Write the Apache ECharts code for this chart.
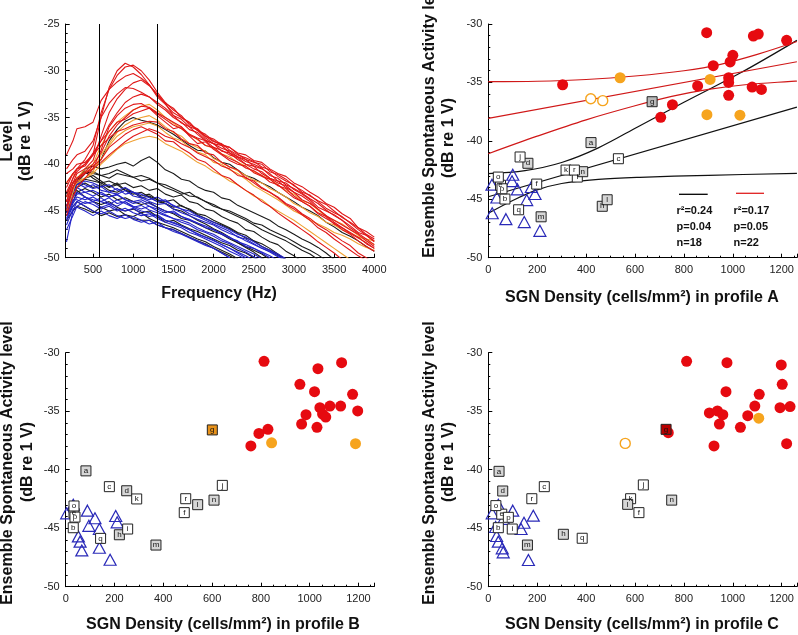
<!DOCTYPE html>
<html><head><meta charset="utf-8">
<script src="https://cdn.jsdelivr.net/npm/echarts@6/dist/echarts.min.js"></script>
<style>html,body{margin:0;padding:0;background:#fff}#c{width:798px;height:635px}</style>
</head><body><div id="c"></div>
<script>
// ---------- Panel 1: spectra ----------
const F = [170,250,300,400,500,600,700,800,900,1000,1100,1200,1300,1400,1500,1600,1700,1800,1900,2000,2100,2200,2300,2400,2500,2600,2700,2800,2900,3000,3100,3200,3300,3400,3500,3600,3700,3800,3900,4000];
const freqTicks = [500,1000,1500,2000,2500,3000,3500,4000];
const markerFreqs = [580,1300];
const redCurves = [
 [-43.5,-41.5,-40.5,-40.2,-39.0,-35.0,-31.8,-30.0,-29.2,-29.6,-30.4,-31.5,-32.6,-33.5,-34.0,-35.0,-35.6,-36.4,-37.0,-37.3,-37.9,-38.2,-38.8,-39.0,-39.6,-39.8,-40.5,-41.0,-41.3,-42.0,-42.4,-43.0,-43.5,-44.2,-44.6,-45.3,-45.8,-46.8,-47.5,-48.0],
 [-42.0,-41.0,-40.5,-39.5,-38.0,-34.5,-32.0,-30.5,-29.6,-29.4,-30.0,-31.0,-32.3,-33.4,-34.2,-34.8,-35.8,-36.2,-37.0,-37.6,-37.8,-38.5,-39.0,-39.3,-39.7,-40.3,-40.6,-41.3,-41.8,-42.2,-43.0,-43.3,-44.0,-44.7,-45.2,-45.6,-46.3,-47.0,-47.6,-48.3],
 [-39.0,-37.5,-36.2,-36.0,-35.5,-33.2,-32.0,-31.2,-30.6,-30.3,-30.8,-31.5,-32.8,-33.6,-34.5,-35.0,-35.5,-36.4,-36.8,-37.5,-38.0,-38.2,-38.9,-39.5,-39.8,-40.0,-40.8,-41.1,-41.6,-42.3,-42.8,-43.4,-43.9,-44.3,-45.0,-45.7,-46.2,-46.8,-47.2,-47.8],
 [-44.0,-42.0,-41.0,-40.5,-39.6,-37.0,-34.5,-33.0,-32.0,-31.3,-31.0,-31.6,-32.5,-33.5,-34.8,-35.2,-36.0,-36.3,-37.2,-37.8,-38.0,-38.8,-39.2,-39.5,-40.2,-40.5,-41.0,-41.8,-42.0,-42.7,-43.2,-43.8,-44.6,-45.0,-45.4,-46.0,-46.8,-47.4,-48.0,-48.6],
 [-43.0,-41.5,-40.8,-40.0,-39.0,-37.5,-35.8,-34.5,-33.4,-32.8,-32.5,-32.8,-33.4,-34.0,-34.8,-35.6,-36.0,-36.8,-37.5,-37.8,-38.6,-38.8,-39.5,-40.0,-40.2,-41.0,-41.5,-41.8,-42.5,-43.0,-43.4,-44.0,-44.8,-45.5,-46.0,-46.5,-47.0,-47.5,-48.2,-48.8],
 [-45.0,-42.5,-41.5,-40.8,-40.0,-38.8,-37.0,-35.8,-35.0,-34.2,-33.8,-33.9,-34.5,-35.0,-35.5,-36.0,-36.8,-37.2,-37.5,-38.2,-38.5,-39.0,-39.3,-40.0,-40.5,-40.8,-41.5,-42.0,-42.3,-43.0,-43.8,-44.2,-44.8,-45.5,-46.2,-46.8,-47.3,-47.8,-48.5,-49.0],
 [-42.5,-41.0,-40.5,-40.0,-38.8,-37.5,-36.5,-35.5,-35.2,-34.6,-34.3,-34.0,-34.8,-35.5,-36.2,-36.0,-37.0,-37.8,-37.6,-38.4,-39.0,-39.6,-40.0,-40.2,-40.9,-41.3,-41.6,-42.3,-42.6,-43.4,-44.0,-44.5,-45.3,-45.8,-46.3,-47.0,-47.5,-48.2,-48.8,-49.3],
 [-44.5,-42.5,-41.8,-41.0,-40.2,-39.5,-38.2,-37.5,-36.8,-36.3,-36.0,-36.4,-36.8,-37.5,-37.6,-38.3,-38.8,-39.5,-39.8,-40.5,-41.2,-41.5,-42.2,-42.8,-43.3,-44.0,-44.5,-45.2,-45.8,-46.4,-47.0,-47.6,-48.3,-48.9,-49.5,-50.2,-50.8,-51.2,-51.8,-52.5],
 [-41.0,-40.5,-40.0,-39.8,-39.0,-38.0,-37.2,-36.5,-36.2,-35.8,-35.6,-35.4,-35.5,-36.2,-36.5,-37.3,-37.8,-38.0,-38.8,-39.0,-39.8,-40.3,-40.6,-41.5,-41.8,-42.5,-43.0,-43.5,-44.2,-44.6,-45.3,-45.8,-46.5,-47.0,-47.6,-48.2,-48.7,-49.5,-50.0,-50.6],
 [-45.5,-43.5,-42.5,-41.5,-40.5,-38.5,-36.0,-34.8,-34.0,-33.6,-33.5,-34.0,-34.6,-35.2,-35.8,-36.2,-36.9,-37.3,-38.0,-38.2,-38.9,-39.4,-39.8,-40.4,-40.7,-41.2,-41.9,-42.2,-42.9,-43.6,-44.0,-44.5,-45.2,-45.6,-46.4,-46.8,-47.4,-47.9,-48.4,-49.0],
 [-40.5,-39.5,-39.0,-38.6,-37.5,-35.0,-33.5,-32.5,-31.8,-31.9,-32.3,-32.8,-33.6,-34.2,-35.0,-35.5,-36.3,-36.6,-37.4,-37.8,-38.3,-38.6,-39.2,-39.7,-40.0,-40.4,-41.2,-41.5,-42.2,-42.6,-43.1,-43.7,-44.2,-44.9,-45.5,-46.0,-46.6,-47.3,-47.6,-48.2],
 [-44.0,-42.0,-41.5,-41.0,-40.5,-39.8,-39.0,-38.3,-37.6,-37.0,-36.6,-36.2,-36.5,-37.0,-37.3,-37.8,-38.2,-38.8,-39.2,-39.6,-40.2,-40.5,-41.2,-41.4,-42.0,-42.6,-43.0,-43.6,-44.3,-44.8,-45.4,-46.0,-46.8,-47.3,-48.0,-48.6,-49.2,-49.8,-50.3,-50.8]
];
const orangeCurves = [
 [-42.0,-41.0,-41.5,-40.5,-40.0,-38.0,-36.5,-35.5,-34.8,-34.2,-33.8,-33.6,-34.2,-35.0,-35.6,-36.2,-36.8,-37.4,-38.0,-38.3,-38.9,-39.2,-39.8,-40.2,-40.8,-41.2,-41.6,-42.2,-42.8,-43.2,-43.9,-44.2,-44.9,-45.6,-46.0,-46.4,-47.0,-47.6,-48.2,-48.6],
 [-43.5,-42.0,-41.8,-41.5,-40.8,-39.0,-37.8,-36.6,-35.8,-35.3,-35.0,-34.8,-35.3,-36.0,-36.6,-37.0,-37.8,-38.2,-38.6,-39.4,-39.8,-40.3,-40.7,-41.2,-41.7,-42.0,-42.6,-43.0,-43.5,-44.2,-44.6,-45.2,-45.6,-46.2,-46.5,-47.0,-47.4,-47.8,-48.0,-48.2],
 [-44.0,-42.5,-42.0,-41.5,-41.0,-40.0,-39.2,-38.4,-37.8,-37.5,-37.2,-37.0,-37.2,-37.8,-38.2,-38.6,-39.2,-39.8,-40.2,-40.8,-41.2,-41.8,-42.2,-42.8,-43.4,-43.8,-44.5,-45.0,-45.5,-46.0,-46.6,-47.2,-47.8,-48.4,-49.0,-49.6,-50.2,-50.8,-51.2,-51.6],
 [-45.0,-43.0,-41.5,-40.8,-40.5,-39.5,-38.0,-37.0,-36.4,-36.0,-35.8,-35.6,-35.9,-36.6,-37.2,-37.5,-38.2,-38.7,-39.0,-39.8,-40.0,-40.6,-41.0,-41.6,-42.3,-42.8,-43.3,-43.8,-44.4,-45.0,-45.4,-46.0,-46.4,-46.8,-47.3,-47.6,-48.0,-48.5,-48.9,-49.2]
];
const blackCurves = [
 [-44.5,-43.0,-42.0,-41.0,-40.5,-39.5,-37.5,-36.3,-35.4,-35.0,-35.3,-35.5,-35.8,-36.3,-36.8,-37.4,-38.0,-38.5,-38.6,-39.3,-39.8,-40.0,-40.6,-41.2,-41.5,-42.0,-42.4,-43.0,-43.5,-44.0,-44.6,-45.0,-45.5,-46.2,-46.7,-47.3,-47.7,-48.2,-48.8,-49.3],
 [-44.0,-42.5,-41.8,-40.5,-40.2,-40.5,-40.3,-40.0,-39.8,-40.2,-39.6,-39.2,-39.8,-40.6,-41.0,-41.6,-41.8,-42.4,-42.8,-43.0,-43.6,-43.8,-44.4,-44.8,-45.2,-45.6,-46.0,-46.6,-47.0,-47.5,-48.0,-48.4,-48.9,-49.5,-50.2,-50.8],
 [-43.5,-42.0,-41.5,-40.8,-41.0,-41.2,-41.5,-41.0,-41.2,-41.4,-41.8,-41.6,-42.0,-42.5,-42.8,-43.2,-43.0,-43.6,-44.0,-44.5,-44.8,-45.2,-45.6,-46.0,-46.5,-47.0,-47.4,-47.8,-48.2,-48.7,-49.2,-49.6,-50.2,-50.8],
 [-44.5,-43.0,-42.2,-41.6,-41.8,-42.0,-41.8,-42.2,-42.0,-42.5,-42.3,-42.8,-42.6,-43.2,-43.5,-43.3,-44.0,-44.2,-44.8,-45.0,-45.6,-46.0,-46.3,-47.0,-47.2,-47.8,-48.3,-48.6,-49.3,-49.8,-50.4],
 [-45.0,-43.5,-42.5,-42.0,-42.5,-42.2,-42.8,-43.0,-42.6,-43.0,-43.4,-43.2,-43.8,-44.0,-43.8,-44.5,-44.8,-45.3,-45.5,-46.0,-46.4,-46.8,-47.3,-47.6,-48.2,-48.5,-49.0,-49.6,-50.2,-50.6],
 [-44.0,-42.8,-42.0,-41.5,-41.2,-41.8,-42.4,-42.0,-42.8,-43.2,-43.0,-43.5,-44.0,-44.2,-44.8,-45.0,-45.5,-46.0,-46.4,-46.9,-47.3,-47.8,-48.4,-48.9,-49.4,-50.0,-50.6],
 [-45.5,-44.5,-44.0,-44.5,-45.0,-45.5,-45.2,-45.6,-45.4,-45.8,-46.0,-46.0,-46.5,-46.8,-47.0,-47.4,-47.8,-48.2,-48.5,-49.0,-49.4,-49.8,-50.3,-50.8],
 [-44.0,-43.2,-42.8,-43.5,-44.0,-44.3,-44.0,-44.6,-45.0,-44.8,-45.2,-45.0,-45.6,-46.2,-46.0,-46.5,-46.9,-47.2,-47.6,-48.0,-48.4,-48.7,-49.2,-49.5,-50.0,-50.5],
 [-44.8,-43.0,-41.5,-40.8,-41.5,-42.0,-42.5,-42.2,-42.8,-43.0,-43.6,-43.4,-43.8,-44.2,-44.6,-44.4,-44.9,-45.4,-45.8,-46.2,-46.5,-46.9,-47.4,-47.9,-48.2,-48.8,-49.2,-49.7,-50.2],
 [-45.2,-44.0,-43.0,-42.6,-43.0,-43.5,-43.2,-43.8,-43.6,-44.0,-44.3,-44.1,-44.6,-45.0,-45.3,-45.8,-46.0,-46.4,-46.8,-47.2,-47.5,-48.0,-48.4,-48.8,-49.2,-49.6,-50.2],
 [-43.2,-42.0,-41.8,-41.0,-40.8,-41.2,-41.0,-40.6,-41.0,-41.4,-41.2,-41.5,-42.0,-42.2,-42.6,-43.0,-43.4,-43.5,-44.0,-44.3,-44.8,-45.0,-45.4,-45.8,-46.3,-46.5,-47.0,-47.4,-47.8,-48.3,-48.8,-49.2,-49.7,-50.3],
 [-46.0,-45.0,-44.5,-44.8,-45.2,-44.6,-45.0,-44.8,-45.4,-45.6,-45.2,-45.8,-46.2,-46.5,-46.8,-47.2,-47.6,-48.0,-48.3,-48.8,-49.2,-49.6,-50.1]
];
const blueCurves = [
 [-48.3,-45.0,-44.0,-43.5,-43.8,-44.0,-43.6,-44.2,-44.0,-44.5,-44.8,-44.5,-45.0,-45.4,-45.8,-46.0,-46.3,-46.8,-47.2,-47.5,-48.0,-48.4,-48.8,-49.2,-49.6,-50.1],
 [-44.5,-42.5,-42.0,-42.5,-42.2,-42.8,-43.0,-42.6,-43.2,-43.0,-43.5,-43.8,-43.5,-44.0,-44.4,-44.8,-45.0,-45.5,-45.8,-46.2,-46.6,-47.0,-47.5,-47.8,-48.3,-48.8,-49.2,-49.6,-50.1],
 [-45.0,-43.5,-43.0,-43.5,-44.0,-43.6,-44.2,-44.5,-44.0,-44.6,-45.0,-45.2,-45.6,-46.0,-46.2,-46.6,-47.0,-47.4,-47.8,-48.2,-48.6,-49.0,-49.5,-50.0],
 [-45.5,-44.0,-43.2,-43.0,-43.4,-43.0,-43.5,-43.2,-43.8,-44.2,-44.0,-44.5,-44.8,-45.2,-45.0,-45.6,-46.0,-46.3,-46.8,-47.0,-47.5,-47.9,-48.2,-48.8,-49.0,-49.5,-50.0],
 [-46.0,-44.5,-44.0,-44.5,-45.0,-45.3,-45.0,-45.5,-45.8,-45.6,-46.0,-46.4,-46.2,-46.8,-47.0,-47.4,-47.8,-48.2,-48.6,-49.0,-49.5,-50.0],
 [-44.0,-42.8,-42.2,-41.8,-42.0,-42.4,-42.2,-42.8,-42.5,-43.0,-43.2,-43.6,-44.0,-43.8,-44.5,-44.8,-45.3,-45.6,-46.0,-46.4,-46.8,-47.2,-47.8,-48.0,-48.5,-49.0,-49.3,-49.8,-50.2],
 [-47.0,-45.5,-44.5,-44.0,-44.3,-44.8,-44.5,-45.0,-44.7,-45.2,-45.5,-45.3,-45.8,-46.2,-46.5,-46.8,-47.3,-47.6,-48.0,-48.4,-48.8,-49.3,-49.7,-50.2],
 [-45.8,-44.2,-43.5,-43.8,-43.5,-44.0,-44.3,-43.8,-44.2,-44.6,-44.4,-44.9,-45.2,-45.5,-45.8,-46.2,-46.5,-47.0,-47.3,-47.7,-48.2,-48.5,-49.0,-49.4,-49.9,-50.4],
 [-44.8,-43.0,-42.5,-43.0,-42.8,-43.2,-43.5,-43.3,-43.8,-44.0,-43.8,-44.2,-44.6,-45.0,-45.2,-45.6,-45.9,-46.3,-46.6,-47.0,-47.4,-47.8,-48.3,-48.6,-49.0,-49.4,-49.8,-50.3],
 [-46.5,-44.8,-44.6,-45.0,-45.5,-45.0,-45.5,-45.8,-45.4,-45.9,-46.2,-46.0,-46.5,-46.8,-47.2,-47.5,-47.9,-48.3,-48.7,-49.0,-49.5,-50.0],
 [-43.5,-42.0,-41.8,-42.2,-42.6,-42.4,-43.0,-43.2,-42.8,-43.4,-43.6,-44.0,-44.3,-44.2,-44.8,-45.2,-45.5,-45.9,-46.2,-46.5,-47.0,-47.4,-47.7,-48.2,-48.6,-49.0,-49.4,-49.9,-50.3],
 [-45.2,-43.8,-43.8,-44.2,-44.0,-44.6,-44.3,-44.8,-45.0,-44.7,-45.3,-45.6,-45.4,-46.0,-46.3,-46.6,-47.0,-47.5,-47.8,-48.1,-48.6,-49.0,-49.4,-49.8,-50.3]
];

// ---------- Panel 2: profile A ----------
const redA = [[304,-35.2],[893,-30.74],[1084,-31.03],[1104,-30.86],[1220,-31.4],[1000,-32.68],[989,-33.25],[920,-33.57],[983,-34.6],[983,-35.0],[856,-35.3],[1079,-35.4],[1117,-35.6],[983,-36.1],[753,-36.9],[705,-37.99]];
const orangeA = [[539,-34.6],[907,-34.74],[894,-37.76],[1029,-37.8]];
const orangeOpenA = [[419,-36.4],[468,-36.56]];
const triA = [[15,-43.75],[16,-46.2],[35,-44.85],[72,-46.7],[100,-42.9],[97,-43.45],[119,-44.15],[147,-46.95],[157,-45.07],[176,-43.95],[191,-44.55],[211,-47.7]];
const sqA = [['a',420,-40.15],['b',68,-44.98],['c',532,-41.53],['d',162,-41.92],['e',50,-43.8],['f',198,-43.7],['g',670,-36.65],['h',466,-45.6],['i',364,-43.1],['j',130,-41.38],['k',318,-42.5],['l',486,-45.04],['m',216,-46.5],['n',386,-42.64],['o',41,-43.1],['p',56,-44.1],['q',124,-45.9],['r',352,-42.5]];
const fitBlackUpper = [[0,-42.8],[150,-42.55],[300,-41.85],[450,-40.6],[620,-38.7],[800,-36.7],[1030,-34.2],[1262,-31.4]];
const fitBlack = [[0,-44.78],[1262,-37.12]];
const fitBlackLower = [[0,-46.2],[100,-45.1],[200,-44.2],[300,-43.65],[450,-43.3],[620,-43.12],[900,-42.95],[1262,-42.78]];
const fitRedUpper = [[0,-34.94],[200,-34.9],[400,-34.75],[600,-34.45],[800,-34.0],[950,-33.45],[1100,-32.6],[1262,-31.5]];
const fitRed = [[0,-38.07],[1262,-33.23]];
const fitRedLower = [[0,-41.1],[200,-39.6],[400,-38.2],[600,-37.0],[750,-36.2],[900,-35.6],[1050,-35.2],[1262,-34.88]];
const statsBlack = ['r\u00b2=0.24','p=0.04','n=18'];
const statsRed = ['r\u00b2=0.17','p=0.05','n=22'];

// ---------- Panel 3: profile B ----------
const redB = [[813,-30.74],[1131,-30.85],[1034,-31.37],[960,-32.7],[1020,-33.33],[1176,-33.56],[1083,-34.56],[1127,-34.56],[1042,-34.7],[1197,-34.98],[1053,-35.24],[1066,-35.5],[985,-35.3],[967,-36.1],[1030,-36.38],[829,-36.55],[792,-36.9],[759,-37.97]];
const orangeB = [[844,-37.7],[1188,-37.78]];
const triB = [[4,-43.73],[31,-43.0],[89,-43.5],[120,-44.15],[95,-44.8],[138,-45.07],[52,-45.7],[59,-46.15],[66,-46.9],[138,-46.67],[182,-47.7],[205,-43.96],[211,-44.5]];
const sqB = [['a',83,-40.1],['b',31,-44.96],['c',179,-41.45],['d',250,-41.8],['e',34,-43.7],['f',486,-43.67],['g',601,-36.6],['h',220,-45.56],['i',254,-45.07],['j',642,-41.34],['k',291,-42.5],['l',541,-42.99],['m',370,-46.44],['n',608,-42.6],['o',34,-43.1],['p',38,-44.05],['q',143,-45.87],['r',492,-42.48]];

// ---------- Panel 4: profile C ----------
const redC = [[811,-30.74],[976,-30.85],[1198,-31.05],[1202,-32.7],[972,-33.33],[1108,-33.56],[1090,-34.56],[1193,-34.7],[1234,-34.6],[904,-35.15],[937,-34.98],[959,-35.3],[1061,-35.38],[945,-36.1],[1031,-36.38],[923,-37.97],[1220,-37.78],[736,-36.84]];
const orangeC = [[1106,-35.6]];
const orangeOpenC = [[560,-37.75]];
const triC = [[16,-43.73],[41,-43.0],[100,-43.5],[184,-43.93],[146,-44.53],[134,-45.07],[34,-45.67],[41,-46.15],[57,-46.72],[61,-47.06],[164,-47.72],[30,-44.9],[62,-44.2]];
const sqC = [['a',44,-40.14],['b',41,-44.96],['c',229,-41.45],['d',59,-41.82],['e',55,-43.8],['f',616,-43.67],['g',727,-36.55],['h',307,-45.52],['i',98,-45.07],['j',634,-41.3],['k',582,-42.48],['l',570,-42.96],['m',160,-46.44],['n',750,-42.6],['o',31,-43.07],['p',82,-44.07],['q',384,-45.86],['r',178,-42.48]];

// ---------- styles ----------
const FONT = '"Liberation Sans", Arial, Helvetica, sans-serif';
const RED = '#e60a10', ORANGE = '#f6a41e', BLUE = '#2a2ab8';
const grayLetters = ['a','d','m','h','l','n'];
const specialSq = {A:{g:'#b8b8b8'}, B:{g:'#e8921a'}, C:{g:'#b80000'}};

const chart = echarts.init(document.getElementById('c'), null, {renderer:'canvas'});

const grids = [
  {left:65.7, top:24, width:308.6, height:233.7},
  {left:488.3, top:24, width:308.6, height:233.7},
  {left:65.7, top:352.7, width:308.6, height:234},
  {left:488.3, top:352.7, width:308.6, height:234}
];
const plainNum = v => String(v);
function axisBase(gi){
  return {gridIndex:gi, type:'value', splitLine:{show:false},
    axisLine:{show:true, onZero:false, lineStyle:{color:'#000', width:1}},
    axisTick:{show:true, inside:true, length:4, lineStyle:{color:'#000'}},
    minorTick:{show:true, length:2, lineStyle:{color:'#000'}},
    axisLabel:{fontSize:11, color:'#222', fontFamily:FONT, margin:7, formatter:plainNum}};
}
const xAxes = [
  Object.assign(axisBase(0), {min:160, max:4000,
    axisTick:{show:true, inside:true, length:4, lineStyle:{color:'#000'}, customValues:freqTicks},
    minorTick:{show:false},
    axisLabel:{fontSize:11, color:'#222', fontFamily:FONT, margin:7, customValues:freqTicks, formatter:plainNum}}),
  Object.assign(axisBase(1), {min:0, max:1262, interval:200}),
  Object.assign(axisBase(2), {min:0, max:1265, interval:200}),
  Object.assign(axisBase(3), {min:0, max:1262, interval:200})
];
xAxes.slice(1).forEach(a=>{a.axisLabel.showMaxLabel=false; a.minorTick.splitNumber=4;});
const yAxes = [
  Object.assign(axisBase(0), {min:-50, max:-25, interval:5}),
  Object.assign(axisBase(1), {min:-50, max:-30, interval:5}),
  Object.assign(axisBase(2), {min:-50, max:-30, interval:5}),
  Object.assign(axisBase(3), {min:-50, max:-30, interval:5})
];
yAxes.forEach(a=>{a.minorTick.splitNumber=5; a.axisLabel.margin=6;});

const series = [];
function addCurves(curves, color){
  curves.forEach(c=>series.push({type:'line', xAxisIndex:0, yAxisIndex:0, silent:true,
    showSymbol:false, symbol:'none', data:c.map((v,i)=>[F[i],v]),
    lineStyle:{color:color, width:1.1}}));
}
addCurves(blackCurves, '#1a1a1a');
addCurves(blueCurves, '#2424c8');
addCurves(orangeCurves, '#f0a032');
addCurves(redCurves, '#e01818');
series.push({type:'line', xAxisIndex:0, yAxisIndex:0, data:[], silent:true,
  markLine:{silent:true, symbol:'none', label:{show:false}, lineStyle:{color:'#000', width:1, type:'solid'},
    data:markerFreqs.map(f=>({xAxis:f}))}});

function fitLine(data, color, gi){
  series.push({type:'line', xAxisIndex:gi, yAxisIndex:gi, data:data, smooth:0.35, silent:true,
    showSymbol:false, symbol:'none', lineStyle:{color:color, width:1.2}, z:2});
}
fitLine(fitBlackUpper,'#111',1); fitLine(fitBlack,'#111',1); fitLine(fitBlackLower,'#111',1);
fitLine(fitRedUpper,'#d01818',1); fitLine(fitRed,'#d01818',1); fitLine(fitRedLower,'#d01818',1);

function addScatter(gi, key, tri, red, orange, orangeOpen, sq){
  series.push({type:'scatter', xAxisIndex:gi, yAxisIndex:gi, data:tri, symbol:'triangle', symbolSize:[12,11],
    itemStyle:{color:'rgba(0,0,0,0)', borderColor:BLUE, borderWidth:1.2, opacity:1}, z:3});
  series.push({type:'scatter', xAxisIndex:gi, yAxisIndex:gi, data:red, symbolSize:11,
    itemStyle:{color:RED, opacity:1}, z:4});
  if (orange.length) series.push({type:'scatter', xAxisIndex:gi, yAxisIndex:gi, data:orange, symbolSize:11,
    itemStyle:{color:ORANGE, opacity:1}, z:4});
  if (orangeOpen.length) series.push({type:'scatter', xAxisIndex:gi, yAxisIndex:gi, data:orangeOpen, symbolSize:10,
    itemStyle:{color:'#fff', borderColor:ORANGE, borderWidth:1.4, opacity:1}, z:4});
  series.push({type:'scatter', xAxisIndex:gi, yAxisIndex:gi, symbol:'rect', symbolSize:10, z:5,
    data:sq.map(s=>({name:s[0], value:[s[1],s[2]],
      itemStyle:{color: specialSq[key][s[0]] || (grayLetters.includes(s[0]) ? '#d6d6d6' : '#fff')}})),
    itemStyle:{borderColor:'#222', borderWidth:1, opacity:1},
    label:{show:true, position:'inside', formatter:'{b}', fontSize:8, color:'#111', fontFamily:FONT}});
}
addScatter(1,'A',triA,redA,orangeA,orangeOpenA,sqA);
addScatter(2,'B',triB,redB,orangeB,[],sqB);
addScatter(3,'C',triC,redC,orangeC,orangeOpenC,sqC);

const TF = 'bold 16px ' + FONT;
function vtext(x,y,t){return {type:'text', x:x, y:y, rotation:Math.PI/2, silent:true,
  style:{text:t, font:TF, fill:'#111', align:'center', verticalAlign:'middle'}};}
function htext(x,y,t){return {type:'text', x:x, y:y, silent:true,
  style:{text:t, font:TF, fill:'#111', align:'center', verticalAlign:'middle'}};}
function stext(x,y,t){return {type:'text', x:x, y:y, silent:true,
  style:{text:t, font:'bold 11px ' + FONT, fill:'#111', align:'left', verticalAlign:'middle'}};}
const graphic = [
  vtext(8,141,'Level'), vtext(26,141,'(dB re 1 V)'), htext(219,294,'Frequency (Hz)'),
  vtext(430,116,'Ensemble Spontaneous Activity level'), vtext(449,138,'(dB re 1 V)'),
  htext(642,298,'SGN Density (cells/mm\u00b2) in profile A'),
  vtext(8,463,'Ensemble Spontaneous Activity level'), vtext(27.5,462,'(dB re 1 V)'),
  htext(223,625,'SGN Density (cells/mm\u00b2) in profile B'),
  vtext(429.5,463,'Ensemble Spontaneous Activity level'), vtext(449,462,'(dB re 1 V)'),
  htext(642,625,'SGN Density (cells/mm\u00b2) in profile C'),
  {type:'line', silent:true, shape:{x1:679,y1:194.3,x2:707.7,y2:194.3}, style:{stroke:'#000', lineWidth:1.3}},
  {type:'line', silent:true, shape:{x1:736,y1:193.3,x2:764,y2:193.3}, style:{stroke:'#e02020', lineWidth:1.3}}
];
statsBlack.forEach((t,i)=>graphic.push(stext(676.5, 211+i*15.8, t)));
statsRed.forEach((t,i)=>graphic.push(stext(733.5, 211+i*15.8, t)));

chart.setOption({animation:false, backgroundColor:'#fff', grid:grids, xAxis:xAxes, yAxis:yAxes, series:series, graphic:graphic});
</script></body></html>
